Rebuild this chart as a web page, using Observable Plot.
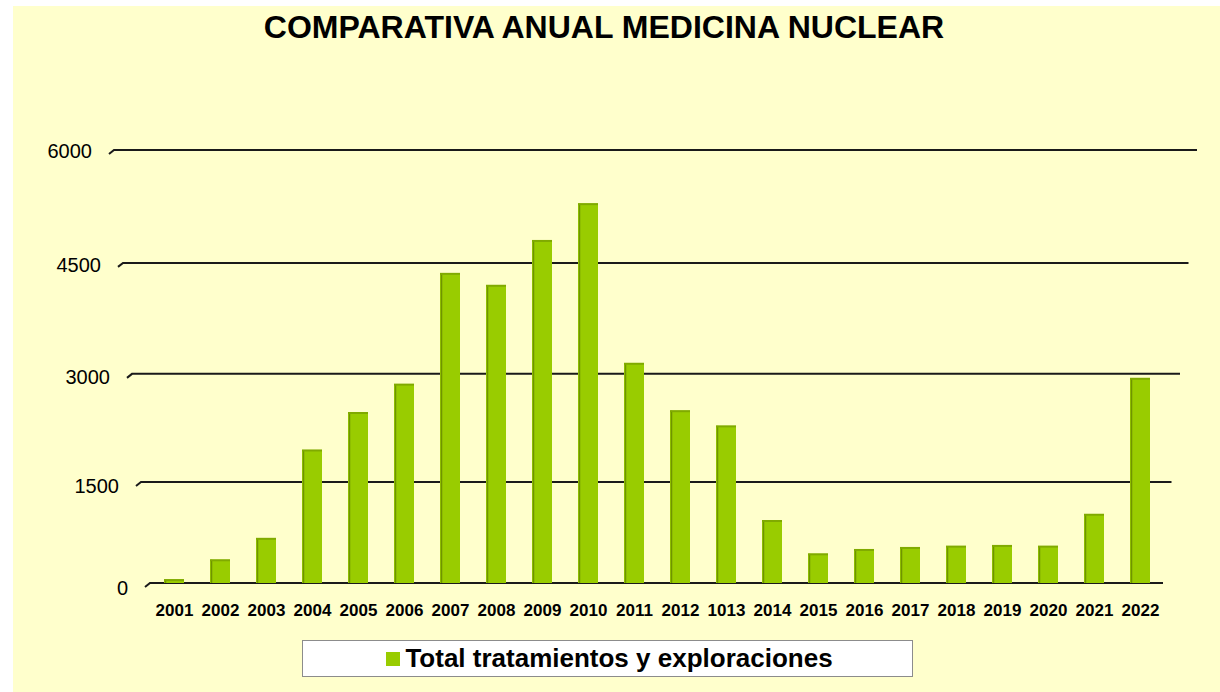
<!DOCTYPE html>
<html>
<head>
<meta charset="utf-8">
<script src="https://cdn.jsdelivr.net/npm/d3@7"></script>
<script src="https://cdn.jsdelivr.net/npm/@observablehq/plot@0.6"></script>
<style>
  html, body { margin: 0; padding: 0; background: #ffffff; }
  #page { position: relative; width: 1220px; height: 692px; overflow: hidden; font-family: "Liberation Sans", Arial, sans-serif; }
  #bg { position: absolute; left: 13px; top: 6px; width: 1207px; height: 686px; background: #FFFFCC; }
  #title { position: absolute; left: 0; top: 8px; width: 1208px; text-align: center; font-size: 32px; font-weight: bold; color: #000; line-height: 38px; }
  #chart { position: absolute; left: 0; top: 60px; }
  #legend { position: absolute; left: 302px; top: 640px; width: 609px; height: 35px; background: #fff; border: 1px solid #8c8c8c; display: flex; align-items: center; justify-content: center; font-size: 26px; font-weight: bold; color: #000; }
  #legend .sw { width: 14px; height: 14px; background: #99CC00; margin-right: 5px; margin-left: 4px; }
</style>
</head>
<body>
<div id="page">
  <div id="bg"></div>
  <div id="title">COMPARATIVA ANUAL MEDICINA NUCLEAR</div>
  <div id="chart"></div>
  <div id="legend"><span class="sw"></span><span>Total tratamientos y exploraciones</span></div>
</div>
<script>
const years = ["2001","2002","2003","2004","2005","2006","2007","2008","2009","2010","2011","2012","1013","2014","2015","2016","2017","2018","2019","2020","2021","2022"];
const totals = [60, 370, 690, 1950, 2470, 2860, 4360, 4200, 4800, 5290, 3145, 2495, 2285, 950, 460, 525, 555, 575, 585, 575, 1040, 2940];
const yTicks = [0, 1500, 3000, 4500, 6000];
const seriesName = "Total tratamientos y exploraciones";

const data = years.map((y, i) => ({year: y, value: totals[i]}));

// perspective-like horizontal grid drawn with the plot's own y scale
function perspectiveGrid(index, scales, values, dimensions) {
  const g = d3.create("svg:g");
  const yMax = yTicks[yTicks.length - 1];
  for (const v of yTicks) {
    const t = 1 - v / yMax;
    const y = scales.y(v);
    const xs = 117 + 36 * t;
    const xe = 1197 - 34 * t;
    g.append("path")
      .attr("d", `M${xs - 8},${y + 4} L${xs - 3},${y} L${xe},${y}`)
      .attr("fill", "none")
      .attr("stroke", "#1a1a1a")
      .attr("stroke-width", 2);
    g.append("text")
      .attr("x", 128 - 36 * (v / yMax))
      .attr("y", y + 3 + 4 * t)
      .attr("text-anchor", "end")
      .attr("dominant-baseline", "middle")
      .attr("font-size", 20)
      .attr("fill", "#000")
      .text(String(v));
  }
  return g.node();
}

const chart = Plot.plot({
  width: 1220,
  height: 575,
  marginTop: 90,
  marginBottom: 52,
  marginLeft: 137,
  marginRight: 44,
  style: {background: "transparent", color: "#000", fontFamily: "'Liberation Sans', Arial, sans-serif", overflow: "visible"},
  x: {type: "band", domain: years, paddingInner: 0.568, paddingOuter: 0.5, label: null},
  y: {type: "pow", exponent: 1.05, domain: [0, 6000], label: null, axis: null},
  marks: [
    perspectiveGrid,
    Plot.barY(data, {x: "year", y: "value", fill: "#99CC00", title: d => `${seriesName} ${d.year}: ${d.value}`}),
    Plot.ruleX(data, {x: "year", y1: 0, y2: "value", stroke: "#6f9400", strokeWidth: 1.5, dx: -9}),
    Plot.tickY(data, {x: "year", y: "value", stroke: "#80aa00", strokeWidth: 2}),
    Plot.axisX({tickSize: 0, tickPadding: 20, fontSize: 17, fontWeight: "bold", label: null}),
  ]
});
document.getElementById("chart").appendChild(chart);
</script>
</body>
</html>
